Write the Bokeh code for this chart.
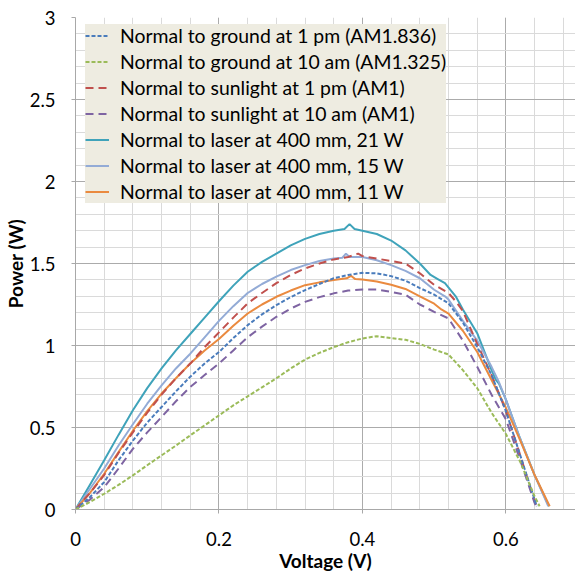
from bokeh.plotting import figure
from bokeh.models import (Range1d, SingleIntervalTicker, CustomJSTickFormatter,
                          Legend, LegendItem)
from bokeh.embed import file_html
from bokeh.resources import INLINE

# ---------------- data ----------------
labels = [
    "Normal to ground at 1 pm (AM1.836)",
    "Normal to ground at 10 am (AM1.325)",
    "Normal to sunlight at 1 pm (AM1)",
    "Normal to sunlight at 10 am (AM1)",
    "Normal to laser at 400 mm, 21 W",
    "Normal to laser at 400 mm, 15 W",
    "Normal to laser at 400 mm, 11 W",
]

v_ground_1pm = [0, 0.02, 0.04, 0.06, 0.08, 0.10, 0.12, 0.14, 0.16, 0.18, 0.20, 0.22, 0.24, 0.26, 0.28,
                0.30, 0.32, 0.34, 0.36, 0.38, 0.40, 0.42, 0.44, 0.46, 0.48, 0.50, 0.52, 0.54, 0.56,
                0.58, 0.60, 0.62, 0.64, 0.643]
p_ground_1pm = [0, 0.075, 0.167, 0.30, 0.42, 0.53, 0.625, 0.72, 0.81, 0.89, 0.96, 1.045, 1.124, 1.19,
                1.246, 1.295, 1.338, 1.375, 1.41, 1.43, 1.443, 1.44, 1.423, 1.395, 1.35, 1.31, 1.257,
                1.14, 0.99, 0.82, 0.60, 0.33, 0.06, 0.02]

v_ground_10am = [0, 0.02, 0.04, 0.06, 0.08, 0.10, 0.12, 0.14, 0.16, 0.18, 0.20, 0.22, 0.24, 0.26, 0.28,
                 0.30, 0.32, 0.34, 0.36, 0.38, 0.40, 0.42, 0.44, 0.46, 0.48, 0.50, 0.52, 0.54, 0.56,
                 0.58, 0.60, 0.62, 0.64, 0.647]
p_ground_10am = [0, 0.045, 0.096, 0.15, 0.208, 0.27, 0.33, 0.39, 0.452, 0.513, 0.574, 0.635, 0.69,
                 0.745, 0.80, 0.86, 0.914, 0.955, 0.99, 1.02, 1.043, 1.057, 1.045, 1.035, 1.01, 0.975,
                 0.945, 0.85, 0.74, 0.59, 0.46, 0.29, 0.08, 0.02]

v_sun_1pm = [0, 0.02, 0.04, 0.06, 0.08, 0.10, 0.12, 0.14, 0.16, 0.18, 0.20, 0.22, 0.24, 0.26, 0.28,
             0.30, 0.32, 0.34, 0.36, 0.38, 0.394, 0.40, 0.42, 0.44, 0.46, 0.48, 0.50, 0.52, 0.53,
             0.54, 0.56, 0.58, 0.60, 0.62, 0.64, 0.643]
p_sun_1pm = [0, 0.10, 0.21, 0.345, 0.47, 0.59, 0.70, 0.80, 0.89, 0.99, 1.08, 1.17, 1.257, 1.32, 1.38,
             1.43, 1.47, 1.50, 1.525, 1.54, 1.56, 1.545, 1.53, 1.515, 1.50, 1.44, 1.37, 1.32, 1.27,
             1.21, 1.01, 0.82, 0.60, 0.33, 0.05, 0.02]

v_sun_10am = [0, 0.02, 0.04, 0.06, 0.08, 0.10, 0.12, 0.14, 0.16, 0.18, 0.20, 0.22, 0.24, 0.26, 0.28,
              0.30, 0.32, 0.34, 0.36, 0.38, 0.40, 0.42, 0.44, 0.46, 0.48, 0.50, 0.52, 0.54, 0.56,
              0.58, 0.60, 0.62, 0.64, 0.642]
p_sun_10am = [0, 0.06, 0.136, 0.25, 0.37, 0.47, 0.564, 0.66, 0.747, 0.82, 0.89, 0.97, 1.05, 1.115,
              1.175, 1.225, 1.266, 1.295, 1.318, 1.335, 1.342, 1.342, 1.327, 1.31, 1.25, 1.205, 1.165,
              1.03, 0.87, 0.70, 0.55, 0.30, 0.04, 0.02]

v_laser_21 = [0, 0.02, 0.04, 0.06, 0.08, 0.10, 0.12, 0.14, 0.16, 0.18, 0.20, 0.22, 0.24, 0.26, 0.28,
              0.30, 0.32, 0.34, 0.36, 0.375, 0.382, 0.389, 0.40, 0.42, 0.44, 0.46, 0.48, 0.495, 0.505,
              0.515, 0.53, 0.54, 0.56, 0.58, 0.586, 0.59, 0.60, 0.62, 0.64, 0.66]
p_laser_21 = [0, 0.15, 0.30, 0.455, 0.605, 0.74, 0.86, 0.97, 1.07, 1.17, 1.27, 1.365, 1.45, 1.51, 1.56,
              1.61, 1.65, 1.68, 1.70, 1.71, 1.74, 1.71, 1.70, 1.68, 1.64, 1.58, 1.50, 1.43, 1.405,
              1.38, 1.30, 1.22, 1.075, 0.85, 0.79, 0.77, 0.67, 0.43, 0.21, 0.02]

v_laser_15 = [0, 0.02, 0.04, 0.06, 0.08, 0.10, 0.12, 0.14, 0.16, 0.18, 0.20, 0.22, 0.24, 0.26, 0.28,
              0.30, 0.32, 0.34, 0.36, 0.372, 0.377, 0.382, 0.40, 0.42, 0.44, 0.46, 0.48, 0.50, 0.515,
              0.52, 0.54, 0.56, 0.58, 0.59, 0.60, 0.62, 0.64, 0.659]
p_laser_15 = [0, 0.125, 0.25, 0.39, 0.52, 0.645, 0.757, 0.86, 0.95, 1.05, 1.15, 1.24, 1.32, 1.375,
              1.42, 1.46, 1.49, 1.515, 1.53, 1.535, 1.56, 1.54, 1.54, 1.52, 1.49, 1.455, 1.41, 1.34,
              1.30, 1.28, 1.15, 1.03, 0.87, 0.78, 0.67, 0.43, 0.21, 0.02]

v_laser_11 = [0, 0.02, 0.04, 0.06, 0.08, 0.10, 0.12, 0.14, 0.16, 0.18, 0.20, 0.22, 0.24, 0.26, 0.28,
              0.30, 0.32, 0.34, 0.36, 0.378, 0.384, 0.39, 0.40, 0.42, 0.44, 0.46, 0.48, 0.50, 0.51,
              0.52, 0.54, 0.56, 0.58, 0.60, 0.62, 0.64, 0.661]
p_laser_11 = [0, 0.10, 0.218, 0.35, 0.48, 0.60, 0.707, 0.80, 0.89, 0.97, 1.04, 1.12, 1.195, 1.25,
              1.297, 1.335, 1.368, 1.385, 1.40, 1.41, 1.425, 1.405, 1.403, 1.39, 1.37, 1.345, 1.30,
              1.255, 1.22, 1.195, 1.09, 0.96, 0.79, 0.62, 0.42, 0.21, 0.02]

x_ticks_major = 0.2
y_ticks_major = 0.5

# ---------------- styling ----------------
FONT = "Lato"
series = [
    (v_ground_1pm, p_ground_1pm, "#4A7CBC", "4 2"),
    (v_ground_10am, p_ground_10am, "#9BBB59", "4 2"),
    (v_sun_1pm, p_sun_1pm, "#C0504D", "8 5"),
    (v_sun_10am, p_sun_10am, "#7E64A2", "8 5"),
    (v_laser_21, p_laser_21, "#3FA3BA", "solid"),
    (v_laser_15, p_laser_15, "#93ABD6", "solid"),
    (v_laser_11, p_laser_11, "#EA8A3F", "solid"),
]

p = figure(width=575, height=577, output_backend="svg", toolbar_location=None,
           x_range=Range1d(0, 0.697), y_range=Range1d(0, 3),
           min_border_left=75, min_border_right=0, min_border_top=17, min_border_bottom=68,
           background_fill_color="white", border_fill_color="white")
p.outline_line_color = None

draw_order = [4, 5, 6, 2, 3, 0, 1]
rmap = {}
for i in draw_order:
    v, pw, col, dash = series[i]
    rmap[i] = p.line(v, pw, line_color=col, line_width=2, line_dash=dash)

fmt = CustomJSTickFormatter(code="return Number(tick.toFixed(2)).toString();")

p.xaxis.ticker = SingleIntervalTicker(interval=x_ticks_major, num_minor_ticks=5)
p.yaxis.ticker = SingleIntervalTicker(interval=y_ticks_major, num_minor_ticks=5)
for ax in (p.xaxis[0], p.yaxis[0]):
    ax.formatter = fmt
    ax.axis_line_color = "#A8A8A8"
    ax.major_tick_line_color = "#A8A8A8"
    ax.major_tick_out = 4
    ax.major_tick_in = 0
    ax.minor_tick_out = 0
    ax.minor_tick_in = 0
    ax.major_label_text_font = FONT
    ax.major_label_text_font_size = "18.5px"
    ax.major_label_text_color = "#000000"
    ax.axis_label_text_font = FONT
    ax.axis_label_text_font_size = "19px"
    ax.axis_label_text_font_style = "bold"
    ax.axis_label_text_color = "#000000"

p.xaxis.axis_label = "Voltage (V)"
p.yaxis.axis_label = "Power (W)"
p.xaxis.major_label_standoff = 18
p.xaxis.axis_label_standoff = 0
p.yaxis.major_label_standoff = 16
p.yaxis.axis_label_standoff = 0

for g in (p.xgrid[0], p.ygrid[0]):
    g.grid_line_color = "#ABABAB"
    g.grid_line_width = 1
    g.minor_grid_line_color = "#DADADA"
    g.minor_grid_line_width = 1

legend = Legend(
    items=[LegendItem(label=labels[i], renderers=[rmap[i]]) for i in range(7)],
    location=(10, 306),
    background_fill_color="#EEECE1", background_fill_alpha=1.0,
    border_line_color=None,
    label_text_font=FONT, label_text_font_size="19.4px", label_text_color="#000000",
    label_height=23, glyph_height=23, glyph_width=24, label_standoff=11,
    spacing=3, padding=2, margin=0,
)
p.add_layout(legend, "center")

open("out.html", "w").write(file_html(p, INLINE))
